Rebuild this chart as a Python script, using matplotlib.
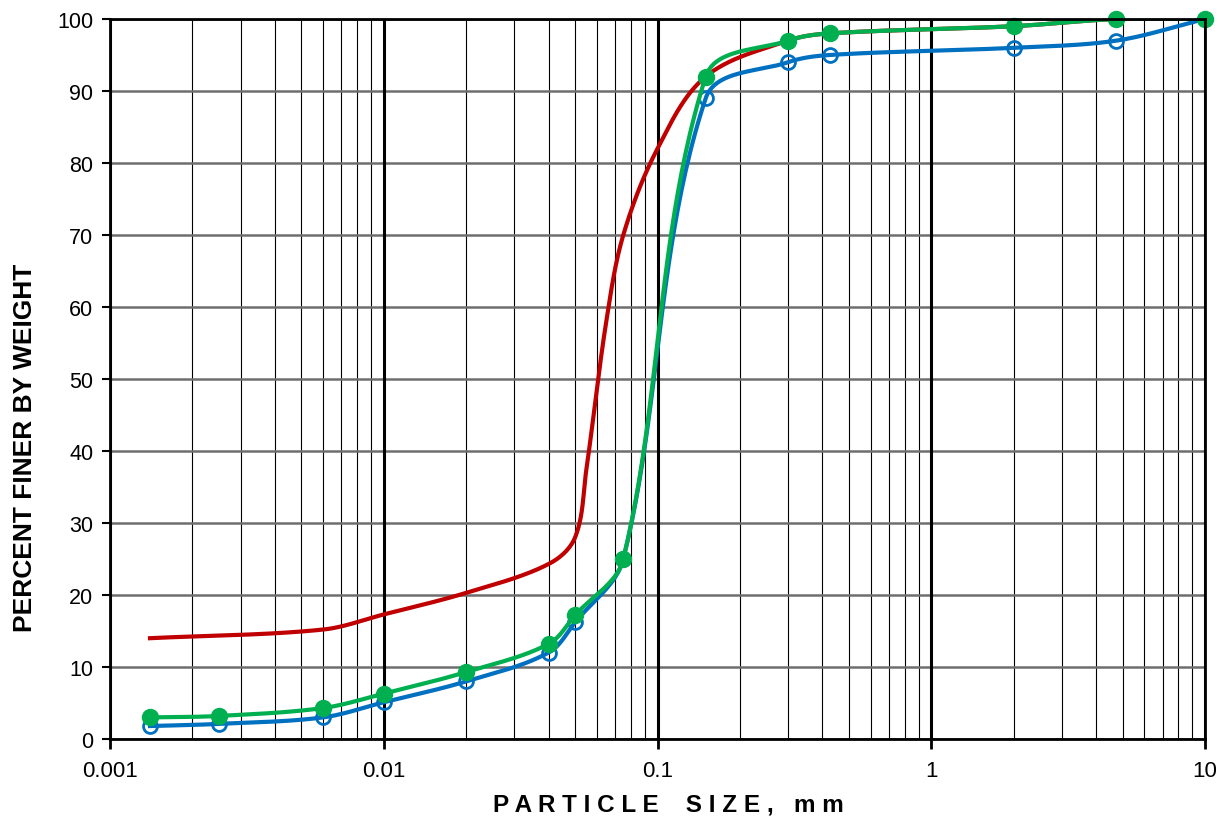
import numpy as np
import matplotlib
matplotlib.use("Agg")
import matplotlib.pyplot as plt
from matplotlib.ticker import LogLocator, FixedLocator, NullFormatter, FixedFormatter

# ---- data ----
sieve_x = [0.0014, 0.0025, 0.006, 0.01, 0.02, 0.04, 0.05, 0.075, 0.15, 0.3, 0.425, 2.0, 4.75, 10.0]
blue_y = [1.8, 2.1, 3.0, 5.1, 8.0, 12.0, 16.2, 25.0, 89.0, 94.0, 95.0, 96.0, 97.0, 100.0]
green_y = [3.0, 3.2, 4.3, 6.3, 9.3, 13.2, 17.2, 25.0, 92.0, 97.0, 98.0, 99.0, 100.0, 100.0]
red_x = [0.0014, 0.006, 0.01, 0.02, 0.04, 0.05, 0.055, 0.065, 0.075, 0.1, 0.15, 0.3, 0.425, 2.0, 4.75, 10.0]
red_y = [14.0, 15.2, 17.3, 20.3, 24.3, 28.0, 37.5, 58.0, 70.0, 82.0, 92.0, 97.0, 98.0, 99.0, 100.0, 100.0]

x_ticks = [0.001, 0.01, 0.1, 1, 10]
x_tick_labels = ["0.001", "0.01", "0.1", "1", "10"]
y_ticks = list(range(0, 101, 10))

W, H = 1221, 820
fig = plt.figure(figsize=(W / 100, H / 100), dpi=100)
ax = fig.add_axes([110 / W, 1 - 740 / H, (1205 - 110) / W, (740 - 20) / H])
ax.set_xscale("log")
ax.set_xlim(0.001, 10)
ax.set_ylim(0, 100)

# pixel scale factors for screen-space smoothing
SX = (1205 - 110) / 4.0
SY = 720 / 100.0


def smooth(xs, ys, n=50, k=1.0 / 3.0):
    u = np.log10(np.asarray(xs, float)) * SX
    v = np.asarray(ys, float) * SY
    P = np.column_stack([u, v])
    m = len(P)
    D = []
    for i in range(m):
        a = P[i - 1] if i > 0 else P[i]
        b = P[i + 1] if i < m - 1 else P[i]
        d = b - a
        nrm = np.hypot(*d)
        D.append(d / nrm if nrm > 0 else np.zeros(2))
    out = [P[0]]
    for i in range(m - 1):
        p1, p2 = P[i], P[i + 1]
        L = np.hypot(*(p2 - p1))
        c1 = p1 + D[i] * L * k
        c2 = p2 - D[i + 1] * L * k
        t = np.linspace(0, 1, n)[1:, None]
        seg = ((1 - t) ** 3) * p1 + 3 * ((1 - t) ** 2) * t * c1 + 3 * (1 - t) * t ** 2 * c2 + t ** 3 * p2
        out.extend(seg)
    out = np.array(out)
    return 10 ** (out[:, 0] / SX), out[:, 1] / SY


# ---- grid ----
for d in range(-3, 1):
    for kk in range(2, 10):
        ax.axvline(kk * 10.0 ** d, color="black", lw=0.8, zorder=1)
for d in range(-3, 2):
    ax.axvline(10.0 ** d, color="black", lw=2.2, zorder=1.2)
for yv in y_ticks:
    ax.axhline(yv, color="#6e6e6e", lw=1.8, zorder=1.1)

# ---- curves ----
red_col = "#C00000"
blue_col = "#0070C0"
green_col = "#00B050"

rx, ry = smooth(red_x, red_y)
ax.plot(rx, ry, color=red_col, lw=3.0, zorder=3)

bx, by = smooth(sieve_x, blue_y)
ax.plot(bx, by, color=blue_col, lw=3.0, zorder=4)
ax.plot(sieve_x, blue_y, linestyle="none", marker="o", ms=10, mfc="none",
        mec=blue_col, mew=2.0, zorder=4)

gx, gy = smooth(sieve_x, green_y)
ax.plot(gx, gy, color=green_col, lw=3.0, zorder=5)
ax.plot(sieve_x, green_y, linestyle="none", marker="o", ms=11.5, mfc=green_col,
        mec=green_col, zorder=5, clip_on=False)

# ---- axes styling ----
for s in ax.spines.values():
    s.set_linewidth(2.0)
    s.set_color("black")
    s.set_zorder(6)

ax.xaxis.set_major_locator(FixedLocator(x_ticks))
ax.xaxis.set_major_formatter(FixedFormatter(x_tick_labels))
ax.xaxis.set_minor_locator(LogLocator(base=10, subs=np.arange(2, 10)))
ax.xaxis.set_minor_formatter(NullFormatter())
ax.tick_params(axis="x", which="minor", length=0)
ax.tick_params(axis="x", which="major", direction="out", length=7, width=2, pad=8)
ax.set_yticks(y_ticks)
ax.tick_params(axis="y", direction="out", length=6, width=1.5, pad=6)

tick_font = "Liberation Sans"
for lab in ax.get_xticklabels():
    lab.set_fontfamily(tick_font)
    lab.set_fontsize(16)
for lab in ax.get_yticklabels():
    lab.set_fontfamily(tick_font)
    lab.set_fontsize(15.5)

fig.text(668 / W, 1 - 805 / H, "P A R T I C L E    S I Z E ,   m m",
         ha="center", va="center", fontsize=17.5, fontweight="bold",
         family="Liberation Sans")
fig.text(25 / W, 1 - 448 / H, "PERCENT FINER BY WEIGHT",
         ha="center", va="center", rotation=90, fontsize=19, fontweight="bold",
         family="Liberation Sans")

fig.savefig("out.png", dpi=100)
